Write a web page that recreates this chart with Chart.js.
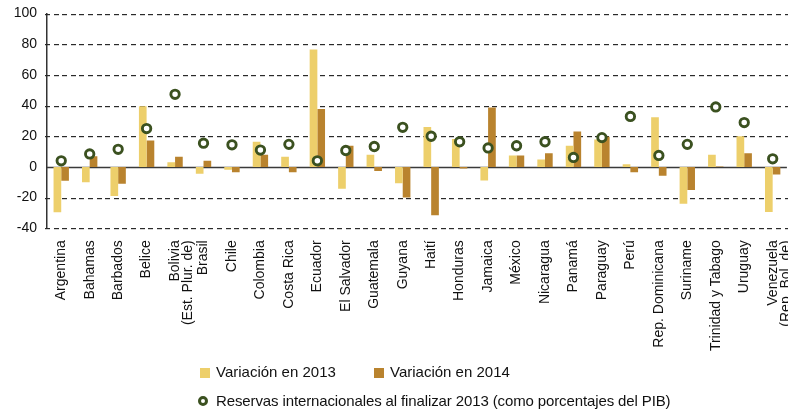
<!DOCTYPE html>
<html>
<head>
<meta charset="utf-8">
<script src="https://cdn.jsdelivr.net/npm/chart.js@4.4.1/dist/chart.umd.min.js"></script>
<style>
    html, body { margin: 0; padding: 0; background: #fff; overflow: hidden; }
    #contenedor { position: relative; width: 788px; height: 413px; overflow: hidden; }
    #grafico { position: absolute; left: 0; top: 0; }
    .leyenda {
        position: absolute;
        font-family: 'Liberation Sans', Arial, sans-serif;
        font-size: 15px;
        color: #111;
        white-space: nowrap;
        line-height: 16px;
    }
    .caja { position: absolute; width: 10px; height: 10px; }
    .aro { position: absolute; width: 4px; height: 4px; border: 3px solid #3b5120; border-radius: 50%; }
</style>
</head>
<body>
<div id="contenedor">
    <canvas id="grafico" width="794" height="413" style="width:794px;height:413px;"></canvas>
    <div class="caja" id="caja2013" style="left:200px; top:368px;"></div>
    <div class="leyenda" id="texto2013" style="left:216px; top:364px;"></div>
    <div class="caja" id="caja2014" style="left:374px; top:368px;"></div>
    <div class="leyenda" id="texto2014" style="left:390px; top:364px;"></div>
    <div class="aro" id="aroReservas" style="left:198px; top:396px;"></div>
    <div class="leyenda" id="textoReservas" style="left:216px; top:393px; letter-spacing:-0.12px;"></div>
</div>
<script>
// Países (etiquetas del eje X)
const paises = [
    'Argentina', 'Bahamas', 'Barbados', 'Belice', ['Bolivia', '(Est. Plur. de)'],
    'Brasil', 'Chile', 'Colombia', 'Costa Rica', 'Ecuador', 'El Salvador',
    'Guatemala', 'Guyana', 'Haití', 'Honduras', 'Jamaica', 'México', 'Nicaragua',
    'Panamá', 'Paraguay', 'Perú', 'Rep. Dominicana', 'Suriname',
    'Trinidad y Tabago', 'Uruguay', ['Venezuela', '(Rep. Bol. de)']
];

// Variación de las reservas (%)
const variacion2013 = [-29.5, -10, -19, 39.5, 3, -4.4, -1.8, 16.4, 6.7, 76.5, -14.2, 8, -10.7,
    26, 18.2, -8.9, 7.5, 4.9, 13.8, 17.8, 1.8, 32.4, -24, 8, 20, -29.3];
const variacion2014 = [-9, 7, -11, 17.3, 6.7, 4, -3.5, 8, -3.5, 37.8, 13.8, -2.7, -20,
    -31.5, -1, 38.7, 7.5, 8.9, 23.1, 19.6, -3.5, -5.8, -15.1, 0.3, 8.9, -4.9];

// Reservas internacionales a fines de 2013 (% del PIB)
const reservas = [4, 8.5, 11.5, 25, 47.3, 15.5, 14.4, 11, 14.7, 4, 10.7, 13.3, 25.8,
    20, 16.4, 12.4, 13.8, 16.4, 6.2, 19.1, 32.9, 7.5, 14.7, 39.1, 28.9, 5.3];

// Marcas del eje Y
const ejeYMin = -40;
const ejeYMax = 100;
const ejeYPaso = 20;

const colores = {
    v2013: '#edcf6b',
    v2014: '#b9832e',
    reservas: '#3b5120'
};

const fuente = "'Liberation Sans', Arial, sans-serif";

const datasets = [
    {
        type: 'line',
        label: 'Reservas internacionales al finalizar 2013 (como porcentajes del PIB)',
        data: reservas,
        showLine: false,
        pointStyle: 'circle',
        pointRadius: 4.2,
        pointBorderWidth: 2.9,
        pointBorderColor: colores.reservas,
        pointBackgroundColor: '#ffffff',
        order: 0
    },
    {
        type: 'bar',
        label: 'Variación en 2013',
        data: variacion2013,
        backgroundColor: colores.v2013,
        categoryPercentage: 0.54,
        barPercentage: 1.0,
        order: 1
    },
    {
        type: 'bar',
        label: 'Variación en 2014',
        data: variacion2014,
        backgroundColor: colores.v2014,
        categoryPercentage: 0.54,
        barPercentage: 1.0,
        order: 1
    }
];

// Grilla horizontal: trazos cortos en cada marca, línea continua en el cero
const grilla = {
    id: 'grilla',
    beforeDatasetsDraw(chart) {
        const { ctx, chartArea, scales } = chart;
        const y = scales.y;
        const trazo = 5, hueco = 3.6;
        ctx.save();
        y.ticks.forEach((t) => {
            const py = Math.round(y.getPixelForValue(t.value)) + 0.5;
            if (t.value === 0) {
                ctx.strokeStyle = '#3a3a3a';
                ctx.lineWidth = 1.5;
                ctx.beginPath();
                ctx.moveTo(chartArea.left, py);
                ctx.lineTo(chartArea.right, py);
                ctx.stroke();
                return;
            }
            ctx.fillStyle = '#2a2a2a';
            for (let x = chartArea.left - 2; x < chartArea.right; x += trazo + hueco) {
                ctx.fillRect(Math.round(x), py - 0.5, trazo, 1.2);
            }
        });
        ctx.restore();
    }
};

new Chart(document.getElementById('grafico'), {
    data: { labels: paises, datasets: datasets },
    plugins: [grilla],
    options: {
        responsive: false,
        animation: false,
        layout: { padding: { top: 13.5, right: 1.6, left: 0, bottom: 0 } },
        plugins: { legend: { display: false }, tooltip: { enabled: false } },
        scales: {
            x: {
                grid: { display: false },
                border: { display: false },
                ticks: {
                    autoSkip: false,
                    maxRotation: 90,
                    minRotation: 90,
                    padding: 4,
                    color: '#111',
                    font: { family: fuente, size: 14, lineHeight: 0.95 }
                },
                afterFit: (escala) => {
                    escala.height = 184.7;
                    escala.paddingLeft = 0;
                    escala.paddingRight = 0;
                }
            },
            y: {
                min: ejeYMin,
                max: ejeYMax,
                ticks: {
                    stepSize: ejeYPaso,
                    padding: 10,
                    color: '#111',
                    font: { family: fuente, size: 14 }
                },
                grid: { display: false, drawTicks: false },
                border: { display: true, color: '#333', width: 1.5 },
                afterFit: (escala) => {
                    escala.width = 47;
                    escala.paddingTop = 0;
                    escala.paddingBottom = 0;
                }
            }
        }
    }
});

// Leyenda
document.getElementById('caja2013').style.background = colores.v2013;
document.getElementById('texto2013').textContent = datasets[1].label;
document.getElementById('caja2014').style.background = colores.v2014;
document.getElementById('texto2014').textContent = datasets[2].label;
document.getElementById('textoReservas').textContent = datasets[0].label;
</script>
</body>
</html>
